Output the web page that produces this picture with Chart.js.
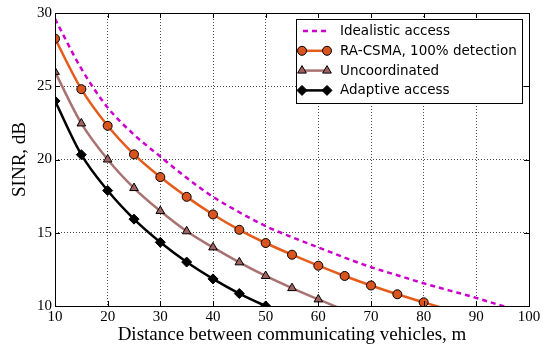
<!DOCTYPE html>
<html>
<head>
<meta charset="utf-8">
<script src="https://cdn.jsdelivr.net/npm/chart.js@4"></script>
<style>
  html, body { margin: 0; padding: 0; background: #fff; }
  #wrap { width: 552px; height: 347px; }
</style>
</head>
<body>
<div id="wrap"><canvas id="sinrChart" width="552" height="347"></canvas></div>
<script>
  // Distance (m) at every 5 m, SINR in dB
  const distances = [10, 15, 20, 25, 30, 35, 40, 45, 50, 55, 60, 65, 70, 75, 80, 85, 90, 95, 100];
  const idealistic = [29.6, 26.2, 23.55, 21.7, 20.2, 18.75, 17.45, 16.4, 15.45, 14.7, 14.0, 13.3, 12.65, 12.1, 11.55, 11.05, 10.55, 10.0, 9.5];
  const raCsma = [28.25, 24.8, 22.3, 20.35, 18.8, 17.45, 16.25, 15.2, 14.3, 13.5, 12.75, 12.05, 11.4, 10.8, 10.25, 9.72];
  const uncoordinated = [25.98, 22.46, 20.0, 18.05, 16.48, 15.1, 14.0, 12.98, 12.05, 11.22, 10.45, 9.72];
  const adaptive = [24.0, 20.33, 17.88, 15.93, 14.35, 13.0, 11.85, 10.85, 10.0, 9.2];

  const xTicks = [10, 20, 30, 40, 50, 60, 70, 80, 90, 100];
  const yTicks = [10, 15, 20, 25, 30];

  const seriesLabels = ["Idealistic access", "RA-CSMA, 100% detection", "Uncoordinated", "Adaptive access"];

  function toPoints(values) {
    return values.map((v, i) => ({ x: distances[i], y: v }));
  }

  // hide markers on the tail points that only carry the curve to the axis
  function markerRadius(r) {
    return (ctx) => (ctx.raw && ctx.raw.y < 10 ? 0 : r);
  }

  const serif = "'Liberation Serif', 'DejaVu Serif', serif";

  // box, inward ticks and matplotlib-like legend
  const framePlugin = {
    id: "frame",
    afterDatasetsDraw(chart) {
      const ctx = chart.ctx;
      const a = chart.chartArea;
      const xs = chart.scales.x;
      const ys = chart.scales.y;
      ctx.save();
      ctx.strokeStyle = "#000";
      ctx.lineWidth = 1;
      ctx.beginPath();
      xTicks.forEach((t) => {
        const px = Math.round(xs.getPixelForValue(t)) + 0.5;
        ctx.moveTo(px, a.bottom); ctx.lineTo(px, a.bottom - 5);
        ctx.moveTo(px, a.top); ctx.lineTo(px, a.top + 5);
      });
      yTicks.forEach((t) => {
        const py = Math.round(ys.getPixelForValue(t)) + 0.5;
        ctx.moveTo(a.left, py); ctx.lineTo(a.left + 5, py);
        ctx.moveTo(a.right, py); ctx.lineTo(a.right - 5, py);
      });
      ctx.stroke();
      ctx.strokeRect(Math.round(a.left) + 0.5, Math.round(a.top) + 0.5,
        Math.round(a.right - a.left), Math.round(a.bottom - a.top));

      // legend
      const lx = 296, ly = 19, lw = 226, lh = 84;
      ctx.fillStyle = "#fff";
      ctx.fillRect(lx, ly, lw, lh);
      ctx.strokeRect(lx + 0.5, ly + 0.5, lw, lh);
      ctx.font = "13.5px 'DejaVu Sans'";
      ctx.textBaseline = "middle";
      chart.data.datasets.forEach((ds, i) => {
        const y = ly + 12 + i * 19.8;
        const x0 = lx + 6, x1 = lx + 31;
        ctx.save();
        ctx.strokeStyle = ds.borderColor;
        ctx.lineWidth = ds.borderWidth;
        ctx.setLineDash(ds.borderDash || []);
        ctx.beginPath();
        if (ds.borderDash) {
          ctx.moveTo(x0 + 1, y); ctx.lineTo(x1 - 1, y);
        } else {
          ctx.moveTo(x0, y); ctx.lineTo(x1, y);
        }
        ctx.stroke();
        ctx.setLineDash([]);
        if (ds.pointStyle && ds.legendRadius) {
          ctx.fillStyle = ds.pointBackgroundColor;
          ctx.strokeStyle = ds.pointBorderColor;
          ctx.lineWidth = ds.pointBorderWidth;
          [x0, x1].forEach((px) => {
            Chart.helpers.drawPoint(ctx, {
              pointStyle: ds.pointStyle, radius: ds.legendRadius,
              rotation: 0, borderWidth: ds.pointBorderWidth
            }, px, y);
          });
        }
        ctx.restore();
        ctx.fillStyle = "#000";
        ctx.fillText(seriesLabels[i], lx + 44, y + 0.5);
      });
      ctx.restore();
    }
  };

  const ctx = document.getElementById("sinrChart").getContext("2d");
  const sinrChart = new Chart(ctx, {
    type: "line",
    data: {
      datasets: [
        {
          label: seriesLabels[0],
          data: toPoints(idealistic),
          borderColor: "#cc00cc",
          borderWidth: 2.5,
          borderDash: [5, 4],
          pointRadius: 0,
          cubicInterpolationMode: "monotone",
          clip: 0,
        },
        {
          label: seriesLabels[1],
          data: toPoints(raCsma),
          borderColor: "#e55b1a",
          borderWidth: 2.5,
          pointStyle: "circle",
          pointRadius: markerRadius(4.5),
          legendRadius: 4.5,
          pointBackgroundColor: "#d9541e",
          pointBorderColor: "#000",
          pointBorderWidth: 1,
          cubicInterpolationMode: "monotone",
          clip: 0,
        },
        {
          label: seriesLabels[2],
          data: toPoints(uncoordinated),
          borderColor: "#a87272",
          borderWidth: 2.5,
          pointStyle: "triangle",
          pointRadius: markerRadius(5),
          legendRadius: 5,
          pointBackgroundColor: "#a06260",
          pointBorderColor: "#000",
          pointBorderWidth: 1,
          cubicInterpolationMode: "monotone",
          clip: 0,
        },
        {
          label: seriesLabels[3],
          data: toPoints(adaptive),
          borderColor: "#000",
          borderWidth: 2.5,
          pointStyle: "rectRot",
          pointRadius: markerRadius(5),
          legendRadius: 5,
          pointBackgroundColor: "#000",
          pointBorderColor: "#000",
          pointBorderWidth: 1,
          cubicInterpolationMode: "monotone",
          clip: 0,
        },
      ],
    },
    options: {
      responsive: false,
      maintainAspectRatio: false,
      animation: false,
      layout: { padding: { top: 13, right: 23, left: 0, bottom: 0 } },
      plugins: {
        legend: { display: false },
        tooltip: { enabled: false },
      },
      scales: {
        x: {
          type: "linear",
          min: 10,
          max: 100,
          afterBuildTicks: (scale) => { scale.ticks = xTicks.map((v) => ({ value: v })); },
          afterFit: (scale) => { scale.height = 41; },
          grid: { color: "rgba(0,0,0,0.7)", lineWidth: 1, drawTicks: false },
          border: { display: false, dash: [1, 2] },
          ticks: { color: "#000", font: { family: serif, size: 15 }, padding: 2, maxRotation: 0 },
          title: {
            display: true,
            text: "Distance between communicating vehicles, m",
            color: "#000",
            font: { family: serif, size: 19 },
            padding: { top: 0, bottom: 1 },
          },
        },
        y: {
          type: "linear",
          min: 10,
          max: 30,
          afterBuildTicks: (scale) => { scale.ticks = yTicks.map((v) => ({ value: v })); },
          afterFit: (scale) => { scale.width = 55; },
          grid: { color: "rgba(0,0,0,0.7)", lineWidth: 1, drawTicks: false },
          border: { display: false, dash: [1, 2] },
          ticks: { color: "#000", font: { family: serif, size: 15 }, padding: 3 },
          title: {
            display: true,
            text: "SINR, dB",
            color: "#000",
            font: { family: serif, size: 19 },
            padding: { top: 9, bottom: 0 },
          },
        },
      },
    },
    plugins: [framePlugin],
  });
</script>
</body>
</html>
